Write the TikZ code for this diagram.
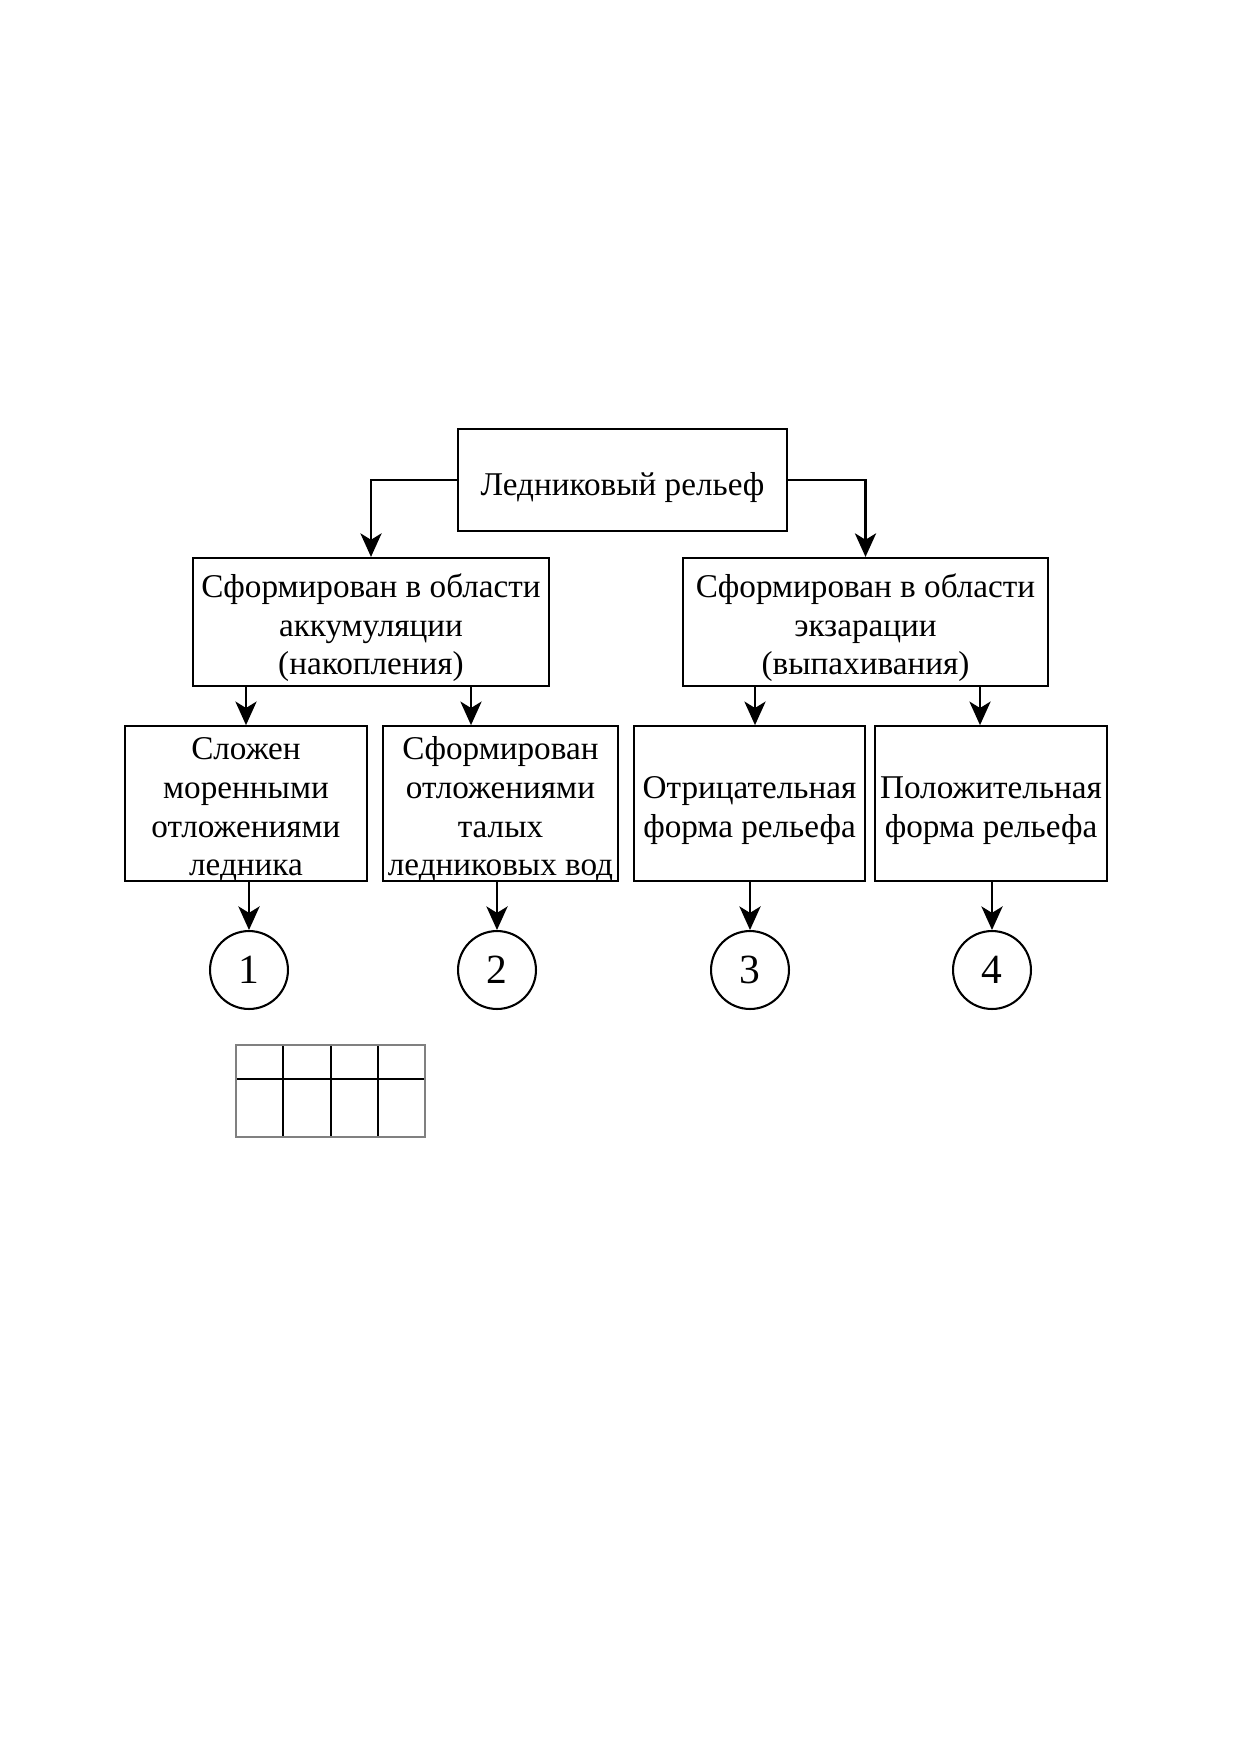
\documentclass[tikz,border=0pt]{standalone}
\usepackage{fontspec}
\setmainfont{Liberation Serif}
\usetikzlibrary{arrows.meta}
\newcommand\blokt[2][-1.1mm]{\raisebox{#1}[\height][\depth]{\begin{tabular}{@{}c@{}}#2\end{tabular}}}
\tikzset{
  >={Stealth[length=4mm,width=3.6mm,inset=1.1mm]},
  blok/.style={draw,inner sep=0pt,minimum height=26.2mm,
    font=\fontsize{16}{18.6}\selectfont},
  krug/.style={draw,circle,inner sep=0pt,minimum size=13.2mm,
    font=\fontsize{20}{24}\selectfont}
}

\begin{document}
\begin{tikzpicture}[x=0.016935cm,y=-0.016935cm,line width=1pt]
  \useasboundingbox (0,0) rectangle (1240,1754);
  \node[blok,minimum width=55.7mm,minimum height=17.3mm] (top) at (622.5,480) {\blokt[-1.3mm]{Ледниковый рельеф}};
  \node[blok,minimum width=60.3mm,minimum height=21.7mm] (akk) at (371,622)
    {\blokt{Сформирован в области\\аккумуляции\\(накопления)}};
  \node[blok,minimum width=61.8mm,minimum height=21.7mm] (ekz) at (865.5,622)
    {\blokt{Сформирован в области\\экзарации\\(выпахивания)}};
  \node[blok,minimum width=41mm] (b1) at (246,803.5) {\blokt{Сложен\\моренными\\отложениями\\ледника}};
  \node[blok,minimum width=39.8mm] (b2) at (500.5,803.5) {\blokt{Сформирован\\отложениями\\талых\\ледниковых вод}};
  \node[blok,minimum width=39.1mm] (b3) at (749.5,803.5) {\blokt{Отрицательная\\форма рельефа}};
  \node[blok,minimum width=39.3mm] (b4) at (991,803.5) {\blokt{Положительная\\форма рельефа}};
  \node[krug] (k1) at (249,970) {1};
  \node[krug] (k2) at (497,970) {2};
  \node[krug] (k3) at (750,970) {3};
  \node[krug] (k4) at (992,970) {4};
  \draw[->] (top.west) -| (akk.north);
  \draw[->] (top.east) -| (ekz.north);
  \coordinate (s1) at (246,686);
  \coordinate (s2) at (471,686);
  \coordinate (s3) at (755,686);
  \coordinate (s4) at (980,686);
  \draw[->] (s1) -- (s1 |- b1.north);
  \draw[->] (s2) -- (s2 |- b2.north);
  \draw[->] (s3) -- (s3 |- b3.north);
  \draw[->] (s4) -- (s4 |- b4.north);
  \foreach \i in {1,...,4}
    \draw[->] (k\i |- b\i.south) -- (k\i.north);
  % tablica
  \draw[line width=0.5pt] (236,1079) -- (425,1079);
  \foreach \x in {283,331,378}
    \draw[line width=0.5pt] (\x,1045) -- (\x,1137);
  \draw[line width=0.6pt,gray] (236,1045) rectangle (425,1137);
\end{tikzpicture}
\end{document}
